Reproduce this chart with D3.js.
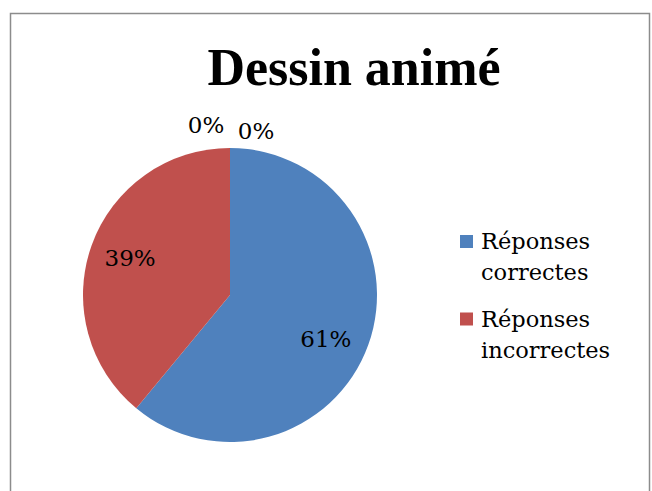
<!DOCTYPE html>
<html>
<head>
<meta charset="utf-8">
<script src="https://cdn.jsdelivr.net/npm/d3@7"></script>
<style>
  body { margin: 0; background: #fff; }
  svg { display: block; }
</style>
</head>
<body>
<div id="chart"></div>
<script>
// Data ------------------------------------------------------------------------
const title = "Dessin animé";
const categories = ["Réponses correctes", "Réponses incorrectes", "", ""];
const values = [61, 39, 0, 0];
const legendLines = [["Réponses", "correctes"], ["Réponses", "incorrectes"]];
const colors = ["#4F81BD", "#C0504D", "#9BBB59", "#8064A2"];

// Layout ----------------------------------------------------------------------
const width = 652;
const height = 491;
const cx = 230;
const cy = 295;
const radius = 147;
const fontFamily = "'DejaVu Serif', serif";

const svg = d3.select("#chart")
  .append("svg")
  .attr("width", width)
  .attr("height", height);

// chart frame
svg.append("rect")
  .attr("x", 10.5)
  .attr("y", 13.5)
  .attr("width", 639)
  .attr("height", 500)
  .attr("fill", "#fff")
  .attr("stroke", "#8c8c8c")
  .attr("stroke-width", 1.5);

svg.append("text")
  .attr("x", 354)
  .attr("y", 85)
  .attr("text-anchor", "middle")
  .attr("font-family", "'Liberation Serif', serif")
  .attr("font-weight", "bold")
  .attr("font-size", 52)
  .text(title);

// Pie -------------------------------------------------------------------------
const data = categories.map((c, i) => ({ name: c, value: values[i], color: colors[i] }));

const pie = d3.pie()
  .value(d => d.value)
  .sort(null);

const arcs = pie(data);

const arc = d3.arc()
  .innerRadius(0)
  .outerRadius(radius);

const labelArc = d3.arc()
  .innerRadius(radius * 0.715)
  .outerRadius(radius * 0.715);

const g = svg.append("g")
  .attr("transform", `translate(${cx},${cy})`);

g.selectAll("path")
  .data(arcs.filter(d => d.value > 0))
  .enter()
  .append("path")
  .attr("d", arc)
  .attr("fill", d => d.data.color);

// labels: inside for real slices (small best-fit nudges), outside for empty ones
const insideNudge = [[-3, 8], [-1, -1]];
const zeroOffsets = [[-24, 23], [26, 17]];
let zi = 0;
g.selectAll("text")
  .data(arcs)
  .enter()
  .append("text")
  .attr("font-family", fontFamily)
  .attr("font-size", 23)
  .attr("text-anchor", "middle")
  .attr("dominant-baseline", "central")
  .attr("fill", "#000")
  .attr("transform", (d, i) => {
    if (d.value > 0) {
      const [x, y] = labelArc.centroid(d);
      return `translate(${x + insideNudge[i][0]},${y + insideNudge[i][1]})`;
    }
    const a = d.startAngle;
    const [dx, dr] = zeroOffsets[zi++];
    const r = radius + dr;
    return `translate(${Math.sin(a) * r + dx},${-Math.cos(a) * r})`;
  })
  .text(d => d3.format(".0%")(d.value / d3.sum(values)));

// Legend ----------------------------------------------------------------------
const legend = svg.append("g")
  .attr("transform", "translate(460,235)");

const item = legend.selectAll("g")
  .data(legendLines)
  .enter()
  .append("g")
  .attr("transform", (d, i) => `translate(0,${i * 77.5})`);

item.append("rect")
  .attr("width", 13)
  .attr("height", 13)
  .attr("fill", (d, i) => colors[i]);

item.append("text")
  .attr("font-family", fontFamily)
  .attr("font-size", 22.5)
  .attr("fill", "#000")
  .selectAll("tspan")
  .data(d => d)
  .enter()
  .append("tspan")
  .attr("x", 21)
  .attr("y", (d, i) => 14 + i * 31)
  .text(d => d);
</script>
</body>
</html>
